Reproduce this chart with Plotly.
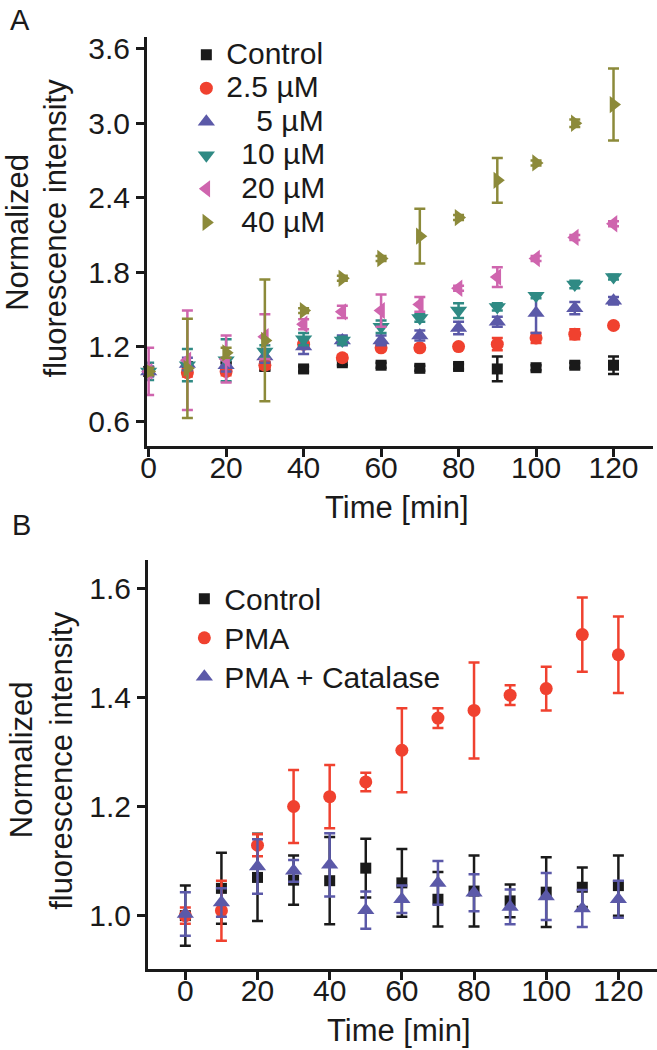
import plotly.graph_objects as go

# ---------------- data ----------------
time = [0, 10, 20, 30, 40, 50, 60, 70, 80, 90, 100, 110, 120]

# Panel A
control_A = [1.00, 1.04, 1.04, 1.04, 1.02, 1.07, 1.05, 1.025, 1.04, 1.02, 1.03, 1.05, 1.05]
control_A_err = [0.03, 0.02, 0.03, 0.03, 0.02, 0.02, 0.02, 0.02, 0.02, 0.10, 0.02, 0.02, 0.07]
c2_5 = [1.00, 0.99, 1.00, 1.05, 1.22, 1.11, 1.19, 1.19, 1.20, 1.22, 1.27, 1.30, 1.37]
c2_5_err = [0.02, 0.03, 0.03, 0.03, 0.03, 0.02, 0.02, 0.02, 0.02, 0.05, 0.04, 0.04, 0.02]
c5 = [1.00, 1.06, 1.05, 1.12, 1.20, 1.25, 1.25, 1.29, 1.35, 1.40, 1.47, 1.51, 1.57]
c5_err = [0.04, 0.05, 0.05, 0.05, 0.06, 0.04, 0.04, 0.04, 0.05, 0.04, 0.16, 0.05, 0.03]
c10 = [1.00, 1.05, 1.09, 1.16, 1.26, 1.25, 1.36, 1.43, 1.49, 1.52, 1.61, 1.70, 1.76]
c10_err = [0.07, 0.13, 0.17, 0.05, 0.05, 0.03, 0.05, 0.03, 0.06, 0.03, 0.02, 0.03, 0.02]
c20 = [1.00, 1.09, 1.10, 1.28, 1.38, 1.48, 1.49, 1.54, 1.67, 1.76, 1.91, 2.08, 2.19]
c20_err = [0.19, 0.40, 0.19, 0.18, 0.04, 0.05, 0.13, 0.06, 0.02, 0.08, 0.02, 0.02, 0.02]
c40 = [1.00, 1.025, 1.15, 1.25, 1.49, 1.75, 1.91, 2.09, 2.24, 2.54, 2.68, 3.00, 3.15]
c40_err = [0.03, 0.40, 0.04, 0.49, 0.02, 0.02, 0.02, 0.22, 0.02, 0.18, 0.02, 0.03, 0.29]

# Panel B
control_B = [1.00, 1.05, 1.07, 1.065, 1.064, 1.087, 1.06, 1.03, 1.045, 1.027, 1.043, 1.052, 1.055]
control_B_err = [0.055, 0.065, 0.08, 0.045, 0.08, 0.054, 0.062, 0.05, 0.065, 0.03, 0.064, 0.036, 0.055]
pma = [1.00, 1.009, 1.129, 1.20, 1.218, 1.245, 1.303, 1.362, 1.376, 1.404, 1.416, 1.515, 1.478]
pma_err = [0.015, 0.055, 0.02, 0.067, 0.058, 0.017, 0.077, 0.018, 0.088, 0.018, 0.04, 0.068, 0.07]
pma_cat = [1.003, 1.024, 1.09, 1.082, 1.093, 1.01, 1.03, 1.06, 1.042, 1.016, 1.035, 1.013, 1.03]
pma_cat_err = [0.04, 0.026, 0.05, 0.02, 0.058, 0.034, 0.025, 0.04, 0.034, 0.032, 0.043, 0.034, 0.034]

labels_A = ["Control", "2.5 µM", "\u2002\u20025 µM", "\u200210 µM", "\u200220 µM", "\u200240 µM"]
labels_B = ["Control", "PMA", "PMA + Catalase"]
x_ticks = [0, 20, 40, 60, 80, 100, 120]
y_ticks_A = [0.6, 1.2, 1.8, 2.4, 3.0, 3.6]
y_ticks_B = [1.0, 1.2, 1.4, 1.6]

# ---------------- style ----------------
W, H = 657, 1050
FONT = "Liberation Sans, Arial, sans-serif"
INK = "#1a1a1a"
BLACK = "#1a1a1a"
RED = "#f0412f"
BLUE = "#5b59a8"
TEAL = "#2f8a84"
PINK = "#cf65ae"
OLIVE = "#8c8a3a"


def fx(p):
    return p / W


def fy(p):
    return 1 - p / H


fig = go.Figure()

series_A = [
    (labels_A[0], control_A, control_A_err, BLACK, "square", 11),
    (labels_A[1], c2_5, c2_5_err, RED, "circle", 13),
    (labels_A[2], c5, c5_err, BLUE, "triangle-up", 15),
    (labels_A[3], c10, c10_err, TEAL, "triangle-down", 15),
    (labels_A[4], c20, c20_err, PINK, "triangle-left", 15),
    (labels_A[5], c40, c40_err, OLIVE, "triangle-right", 15),
]
for name, yv, ev, col, sym, sz in series_A:
    fig.add_trace(go.Scatter(
        x=time, y=yv, mode="markers", name='<span style="font-size:30px">' + name + '</span>',
        marker=dict(symbol=sym, size=sz, color=col, line=dict(width=0)),
        error_y=dict(type="data", array=ev, color=col, thickness=2.5, width=5.5),
        xaxis="x", yaxis="y", legend="legend", cliponaxis=False,
    ))

series_B = [
    (labels_B[0], control_B, control_B_err, BLACK, "square", 11),
    (labels_B[1], pma, pma_err, RED, "circle", 13),
    (labels_B[2], pma_cat, pma_cat_err, BLUE, "triangle-up", 15),
]
for name, yv, ev, col, sym, sz in series_B:
    fig.add_trace(go.Scatter(
        x=time, y=yv, mode="markers", name='<span style="font-size:30px">' + name + '</span>',
        marker=dict(symbol=sym, size=sz, color=col, line=dict(width=0)),
        error_y=dict(type="data", array=ev, color=col, thickness=2.5, width=5.5),
        xaxis="x2", yaxis="y2", legend="legend2", cliponaxis=False,
    ))

axis_common = dict(
    showgrid=False, zeroline=False, showline=True, linecolor=INK, linewidth=2.5,
    ticks="outside", ticklen=8, tickwidth=2.5, tickcolor=INK,
    tickfont=dict(family=FONT, size=30, color=INK),
)

fig.update_layout(
    width=W, height=H,
    margin=dict(l=0, r=0, t=0, b=0),
    paper_bgcolor="white", plot_bgcolor="white",
    font=dict(family=FONT, color=INK),
    xaxis=dict(domain=[fx(142), fx(653)], range=[-0.5, 130.2], anchor="y",
               tickvals=x_ticks, ticklabelstandoff=-15, **axis_common),
    yaxis=dict(domain=[fy(443), fy(32)], range=[0.4, 3.696], anchor="x",
               tickvals=y_ticks_A, ticktext=[f"{v:.1f}" for v in y_ticks_A], **axis_common),
    xaxis2=dict(domain=[fx(143), 1.0], range=[-10.43, 130.7], anchor="y2",
                tickvals=x_ticks, ticklabelstandoff=-15, **axis_common),
    yaxis2=dict(domain=[fy(969), fy(558)], range=[0.9015, 1.651], anchor="x2",
                tickvals=y_ticks_B, ticktext=[f"{v:.1f}" for v in y_ticks_B], **axis_common),
    legend=dict(x=fx(182), y=fy(28), xanchor="left", yanchor="top",
                font=dict(family=FONT, size=23.5, color=INK),
                bgcolor="rgba(0,0,0,0)", borderwidth=0, tracegroupgap=0),
    legend2=dict(x=fx(180), y=fy(572), xanchor="left", yanchor="top",
                 font=dict(family=FONT, size=27.7, color=INK),
                 bgcolor="rgba(0,0,0,0)", borderwidth=0, tracegroupgap=0),
    showlegend=True,
)

ann_font = dict(family=FONT, size=31, color=INK)
annotations = [
    dict(text="A", x=fx(14), y=fy(15), font=dict(family=FONT, size=29, color=INK)),
    dict(text="B", x=fx(16), y=fy(522), font=dict(family=FONT, size=29, color=INK)),
    dict(text="Normalized", x=fx(12), y=fy(228), textangle=-90, font=ann_font),
    dict(text="fluorescence intensity", x=fx(50), y=fy(224), textangle=-90, font=ann_font),
    dict(text="Normalized", x=fx(16), y=fy(758), textangle=-90, font=ann_font),
    dict(text="fluorescence intensity", x=fx(56), y=fy(759), textangle=-90, font=ann_font),
    dict(text="Time [min]", x=fx(395), y=fy(505), font=ann_font),
    dict(text="Time [min]", x=fx(397), y=fy(1030), font=ann_font),
]
for a in annotations:
    a.update(xref="paper", yref="paper", xanchor="center", yanchor="middle", showarrow=False)
fig.update_layout(annotations=annotations)

fig.write_html("out.html", config={"displayModeBar": False},
               post_script="document.body.style.margin='0';document.body.style.overflow='hidden';")
